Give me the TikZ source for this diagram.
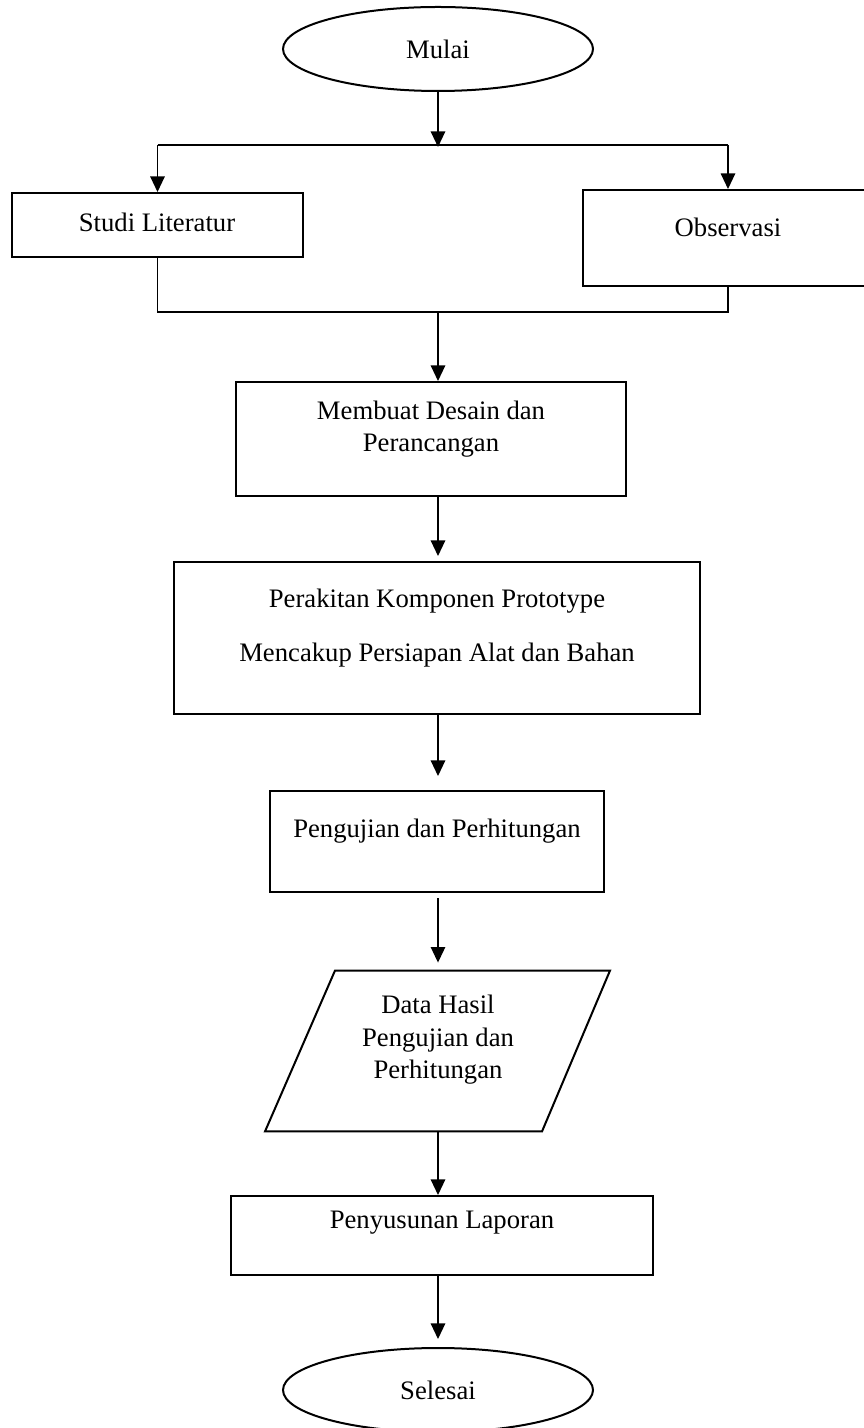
\documentclass[tikz,border=0pt]{standalone}
\usepackage{fontspec}
\setmainfont{Liberation Serif}
\usetikzlibrary{shapes.geometric,arrows.meta}
\newlength\px
\setlength\px{0.45pt}
\tikzset{
  proc/.style={draw,line width=0.9pt,inner sep=0pt},
  term/.style={draw,ellipse,line width=0.9pt,inner sep=0pt,minimum width=310\px,minimum height=84\px},
  txt/.style={align=center,font=\fontsize{12}{14.6}\selectfont},
  link/.style={line width=0.65pt},
  flow/.style={link,-{Triangle[width=6.5pt,length=7pt]}}
}

\begin{document}
\begin{tikzpicture}[x=0.45pt,y=-0.45pt]
\useasboundingbox (0,0) rectangle (864,1428);

% start
\node[term,txt] (start) at (438,49) {Mulai};
\coordinate (split) at (438,145);

% two branches
\node[proc,minimum width=291\px,minimum height=64\px] (studi) at (157.5,225) {};
\node[txt] (studi-t) at (157,222) {Studi Literatur};
\node[proc,minimum width=290\px,minimum height=96\px] (obs) at (728,238) {};
\node[txt] (obs-t) at (728,227) {Observasi};
\coordinate (join) at (438,312);

% main steps
\node[proc,minimum width=390\px,minimum height=114\px] (design) at (431,439) {};
\node[txt] (design-t) at (431,429) {Membuat Desain dan\\Perancangan};
\node[proc,minimum width=526\px,minimum height=152\px] (build) at (437,638) {};
\node[txt] (build-t) at (437,628) {Perakitan Komponen Prototype\\[9.7pt]Mencakup Persiapan Alat dan Bahan};
\node[proc,minimum width=334\px,minimum height=101\px] (test) at (437,841.5) {};
\node[txt] (test-t) at (437,831) {Pengujian dan Perhitungan};

% data (parallelogram)
\node[minimum width=277\px,minimum height=160\px,inner sep=0pt] (data) at (438,1051) {};
\draw[proc] ([xshift=-103\px]data.north) -- ([xshift=172\px]data.north)
  -- ([xshift=104\px]data.south) -- ([xshift=-173\px]data.south) -- cycle;
\node[txt] (data-t) at (438,1040) {Data Hasil\\Pengujian dan\\Perhitungan};

\node[proc,minimum width=422\px,minimum height=79\px] (report) at (442,1235.5) {};
\node[txt] (report-t) at (442,1223) {Penyusunan Laporan};
\node[term,txt] (end) at (438,1390) {Selesai};

% connectors
\draw[flow] (start) -- ([yshift=-2\px]split);
\draw[link] (studi.north |- split) -- (obs.north |- split);
\draw[flow] (studi.north |- split) -- (studi);
\draw[flow] (obs.north |- split) -- (obs);
\draw[link] (studi) |- (join) -| (obs);
\draw[flow] (join) -- (join |- design.north);
\draw[flow,shorten >=5\px] (design.south -| start) -- (build.north -| start);
\draw[flow,shorten >=14\px] (build.south -| start) -- (test.north -| start);
\draw[flow,shorten <=5\px,shorten >=8\px] (test.south -| start) -- (data);
\draw[flow] (data) -- (report.north -| start);
\draw[flow,shorten >=8\px] (report.south -| start) -- (end);
\end{tikzpicture}
\end{document}
